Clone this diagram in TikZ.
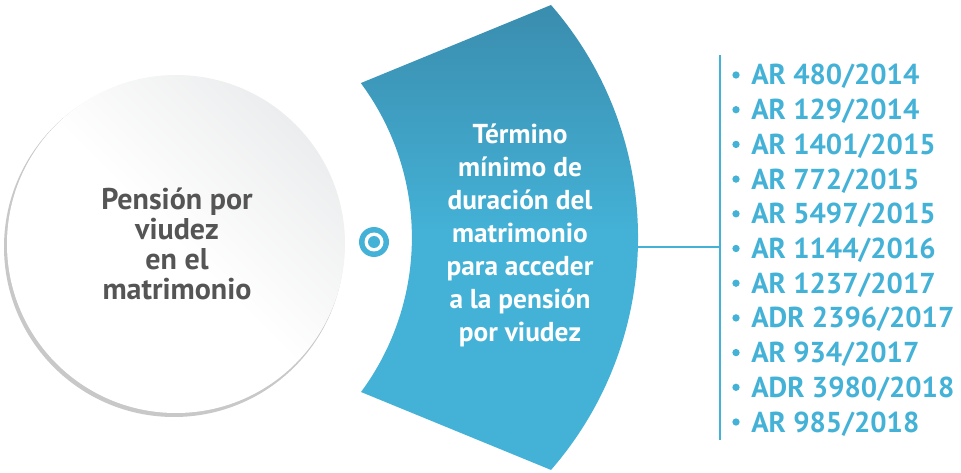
\documentclass[tikz,border=0pt]{standalone}
\usepackage{fontspec}
\setmainfont{PT Sans}
\usetikzlibrary{positioning}
\definecolor{tealdark}{HTML}{3A8DAE}
\definecolor{teallight}{HTML}{44B2D7}
\definecolor{textgray}{HTML}{555555}
\definecolor{rimgray}{HTML}{C8C8C8}
\definecolor{shadegray}{HTML}{ECEDEE}

\begin{document}
\begin{tikzpicture}[
    x=0.75pt, y=0.75pt,
    maintext/.style={align=center, text=textgray, font=\fontsize{22.5}{22.5}\selectfont\bfseries},
    bandtext/.style={align=center, text=white, font=\fontsize{20.5}{24.75}\selectfont\bfseries},
    item/.style={anchor=base west, text=teallight, inner sep=0pt, font=\fontsize{21.6}{24}\selectfont\bfseries},
    dot/.style={circle, fill=teallight, inner sep=0pt, minimum size=5.5pt},
    line/.style={draw=teallight, line width=1.5pt}
]
\useasboundingbox (0,0) rectangle (961,472);

% Main circle
\fill[rimgray] (174,225) circle (170);
\shade[top color=shadegray, bottom color=white, middle color=white, shading angle=-45] (176,228) circle (169);
\node[maintext] (main) at (177,228) {Pensión por\\viudez\\en el\\matrimonio};

% Band
\shade[top color=tealdark, bottom color=teallight, middle color=teallight]
  (361,389) -- (551,467) arc[start angle=41.05, end angle=-41.05, radius=354]
  -- (361,80) arc[start angle=-36.5, end angle=36.5, radius=259.5] -- cycle;
\node[bandtext] (band) at (520,237) {Término\\mínimo de\\duración del\\matrimonio\\para acceder\\a la pensión\\por viudez};

% Target mark
\fill[teallight] (374,230) circle (15);
\fill[white] (374,230) circle (9.5);
\fill[teallight] (374,230) circle (6);

% Connector and bar
\coordinate (bandout) at (636,225);
\coordinate (bar) at (720,225);
\coordinate (bartop) at (720,417);
\coordinate (barbot) at (720,32);
\draw[line] (bandout) -- (bar);
\draw[line] (bartop) -- (barbot);

% Rulings
\foreach \num/\yr [count=\i from 0] in {AR 480/2014, AR 129/2014, AR 1401/2015,
    AR 772/2015, AR 5497/2015, AR 1144/2016, AR 1237/2017, ADR 2396/2017,
    AR 934/2017, ADR 3980/2018, AR 985/2018} {
  \node[dot] (dot\i) at (736,397-34.7*\i) {};
  \node[item] (rule\i) at (751,387-34.7*\i) {\num/\yr};
}

\end{tikzpicture}
\end{document}
